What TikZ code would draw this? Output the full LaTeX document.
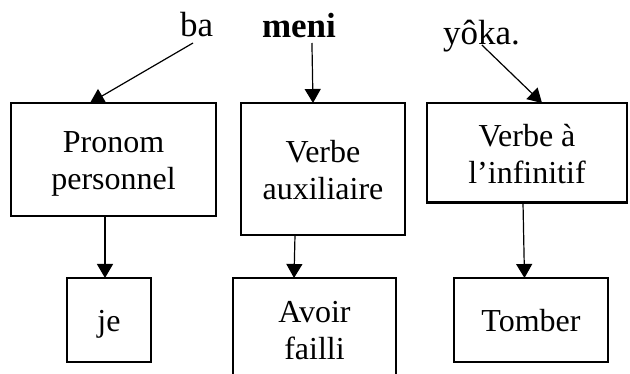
\documentclass[tikz,border=0pt]{standalone}
\usepackage{fontspec}
\setmainfont{Liberation Serif}
\usetikzlibrary{arrows.meta}
\newcommand\boxtxt[1]{\raisebox{-4.5pt}[\height][\depth]{\begin{tabular}{@{}c@{}}#1\end{tabular}}}
\begin{document}
\begin{tikzpicture}[x=1pt,y=-1pt,
  wordbox/.style={draw,line width=2.6pt,inner sep=0pt,outer sep=0pt,
    font=\fontsize{32}{37}\selectfont},
  topword/.style={inner sep=0pt,outer sep=0pt,anchor=base west,
    font=\fontsize{35}{40}\selectfont},
  conn/.style={line width=1.2pt,-{Triangle[length=14pt,width=16pt]}}]
\path[use as bounding box,clip] (0,0) rectangle (630,374);
% top words
\node[topword] (ba) at (180,37) {ba};
\node[topword,font=\fontsize{35}{40}\selectfont\bfseries] (meni) at (262,38) {meni};
\node[topword] (yoka) at (443,45) {yôka.};
% upper boxes
\node[wordbox,minimum width=205,minimum height=113] (b1) at (113.5,159.5) {\boxtxt{Pronom\\personnel}};
\node[wordbox,minimum width=164,minimum height=132] (b2) at (323,169) {\boxtxt{Verbe\\auxiliaire}};
\node[wordbox,minimum width=200,minimum height=99.5] (b3) at (527,152.75) {\boxtxt{Verbe à\\l’infinitif}};
% lower boxes
\node[wordbox,minimum width=84,minimum height=84] (je) at (109,320) {\boxtxt{je}};
\node[wordbox,minimum width=163,minimum height=103] (av) at (314.5,329.5) {\boxtxt{Avoir\\failli}};
\node[wordbox,minimum width=154,minimum height=84] (tb) at (531,320) {\boxtxt{Tomber}};
% connectors from words
\draw[conn] ([shift={(-3.5,6)}]ba.base) -- ([xshift=-23.5]b1.north);
\draw[conn] ([shift={(13,5)}]meni.base) -- ([xshift=-10]b2.north);
\draw[conn] ([shift={(0.5,0)}]yoka.base) -- ([xshift=15]b3.north);
% connectors between boxes
\draw[conn] ([xshift=-8.5]b1.south) -- ([xshift=-4]je.north);
\draw[conn] ([xshift=-28]b2.south) -- ([xshift=-20.5]av.north);
\draw[conn] ([xshift=-4]b3.south) -- ([xshift=-6.5]tb.north);
\end{tikzpicture}
\end{document}
